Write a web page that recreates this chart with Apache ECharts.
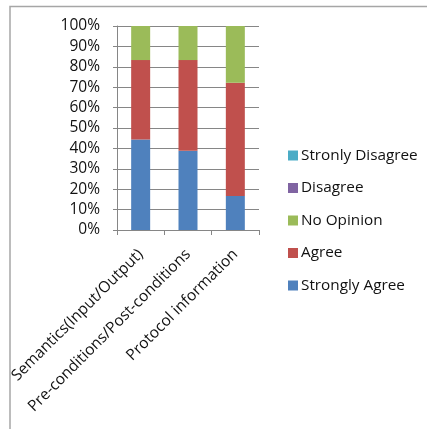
<!DOCTYPE html>
<html>
<head>
<meta charset="utf-8">
<script src="https://cdn.jsdelivr.net/npm/echarts@6/dist/echarts.min.js"></script>
<style>
html,body{margin:0;padding:0;background:#fff;}
#c{width:427px;height:429px;}
</style>
</head>
<body>
<div id="c"></div>
<script>
const categories = ['Semantics(Input/Output)', 'Pre-conditions/Post-conditions', 'Protocol information'];
const stronglyAgree = [44.4, 38.9, 16.7];
const agree = [38.9, 44.4, 55.5];
const noOpinion = [16.7, 16.7, 27.8];
const disagree = [0, 0, 0];
const stronlyDisagree = [0, 0, 0];
const yTicks = [0, 10, 20, 30, 40, 50, 60, 70, 80, 90, 100];
const legendOrder = ['Stronly Disagree', 'Disagree', 'No Opinion', 'Agree', 'Strongly Agree'];

const font = 'Open Sans';
const chart = echarts.init(document.getElementById('c'), null, {renderer: 'canvas'});
function bar(name, data, color) {
  return {name, type: 'bar', stack: 't', data, barWidth: 19, itemStyle: {color}, emphasis: {disabled: true}};
}
chart.setOption({
  animation: false,
  textStyle: {fontFamily: font},
  graphic: [{
    type: 'polyline',
    shape: {points: [[10, 440], [10, 6.5], [440, 6.5]]},
    style: {stroke: '#a6a6a6', lineWidth: 1.5, fill: null},
    silent: true
  }],
  grid: {left: 117, right: 168, top: 26, bottom: 199},
  legend: {
    orient: 'vertical', left: 283, top: 143, itemGap: 17.5,
    itemWidth: 10, itemHeight: 10, icon: 'rect',
    data: legendOrder,
    textStyle: {fontFamily: font, fontSize: 15.3, color: '#111', padding: [0, 0, 0, -2]}
  },
  xAxis: {
    type: 'category', data: categories,
    axisLine: {lineStyle: {color: '#868686'}},
    axisTick: {show: true, length: 5, alignWithLabel: false, lineStyle: {color: '#868686'}},
    axisLabel: {rotate: 45, interval: 0, fontFamily: font, fontSize: 15.5, color: '#111', margin: 22}
  },
  yAxis: {
    type: 'value', min: yTicks[0], max: yTicks[yTicks.length - 1], interval: 10,
    axisLine: {show: true, lineStyle: {color: '#868686'}},
    axisTick: {show: true, length: 4, lineStyle: {color: '#868686'}},
    splitLine: {lineStyle: {color: '#868686'}},
    axisLabel: {formatter: '{value}%', fontFamily: font, fontSize: 15.5, color: '#111', margin: 17}
  },
  series: [
    bar('Strongly Agree', stronglyAgree, '#4F81BD'),
    bar('Agree', agree, '#C0504D'),
    bar('No Opinion', noOpinion, '#9BBB59'),
    bar('Disagree', disagree, '#8064A2'),
    bar('Stronly Disagree', stronlyDisagree, '#4BACC6')
  ]
});
</script>
</body>
</html>
